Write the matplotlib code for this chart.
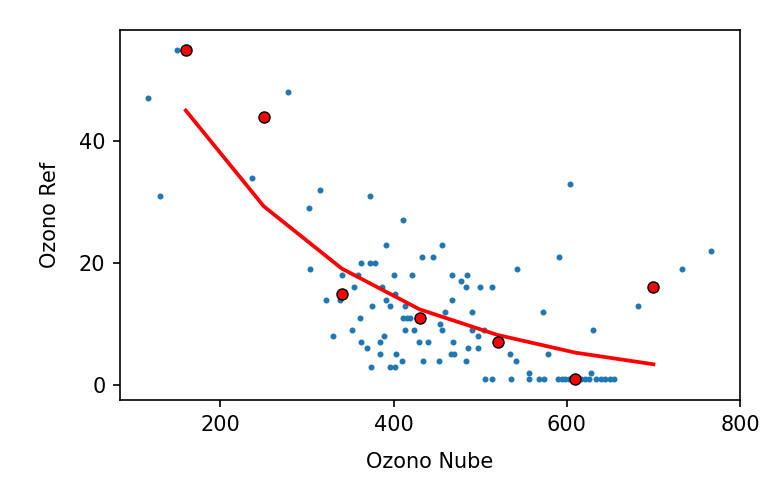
import matplotlib
matplotlib.use("Agg")
import matplotlib.pyplot as plt

# scatter of raw measurements
nube = [150, 116, 278, 237, 130, 315, 302,
        373, 411, 391, 456, 433, 445, 303, 362, 373, 378,
        340, 359, 400, 421, 467, 485, 478,
        354, 386, 484, 500, 514,
        338, 322, 391, 402, 375, 396, 413, 467,
        459, 490, 361, 411, 415, 419, 454,
        352, 413, 424, 456, 490, 504,
        330, 389, 498,
        362, 384, 429, 440, 469, 369, 486, 498,
        384, 403, 466, 470, 410, 434, 452, 483,
        374, 396, 402,
        604, 767, 591, 542, 733, 573, 682, 630,
        534, 578, 541, 556, 628,
        505, 514, 535, 556, 568, 574, 590, 594, 598, 602, 606,
        612, 616, 621, 626, 634, 639, 644, 650, 655]
ref = [55, 47, 48, 34, 31, 32, 29,
       31, 27, 23, 23, 21, 21, 19, 20, 20, 20,
       18, 18, 18, 18, 18, 18, 17,
       16, 16, 16, 16, 16,
       14, 14, 14, 15, 13, 13, 13, 14,
       12, 12, 11, 11, 11, 11, 10,
       9, 9, 9, 9, 9, 9,
       8, 8, 8,
       7, 7, 7, 7, 7, 6, 6, 6,
       5, 5, 5, 5, 4, 4, 4, 4,
       3, 3, 3,
       33, 22, 21, 19, 19, 12, 13, 9,
       5, 5, 4, 2, 2,
       1, 1, 1, 1, 1, 1, 1, 1, 1, 1, 1,
       1, 1, 1, 1, 1, 1, 1, 1, 1]

# binned values and fitted curve
bin_x = [160, 250, 340, 430, 520, 610, 700]
bin_y = [55, 44, 15, 11, 7, 1, 16]
fit_y = [45, 29.3, 19.1, 12.4, 8.2, 5.3, 3.4]

fig = plt.figure(figsize=(778 / 150, 480 / 150), dpi=150)
ax = fig.add_axes([120 / 778, 80 / 480, 620 / 778, 370 / 480])

ax.scatter(nube, ref, s=3.5, color="#1f77b4", zorder=2)
ax.plot(bin_x, fit_y, color="red", lw=1.8, zorder=3)
ax.scatter(bin_x, bin_y, s=28, color="red", edgecolors="black",
           linewidths=0.7, zorder=4)

ax.set_xlim(84, 799)
ax.set_ylim(-2.46, 58.2)
ax.set_xticks([200, 400, 600, 800])
ax.set_yticks([0, 20, 40])
ax.set_xlabel("Ozono Nube", labelpad=8.5)
ax.set_ylabel("Ozono Ref", labelpad=9)

fig.savefig("out.png", dpi=150)
